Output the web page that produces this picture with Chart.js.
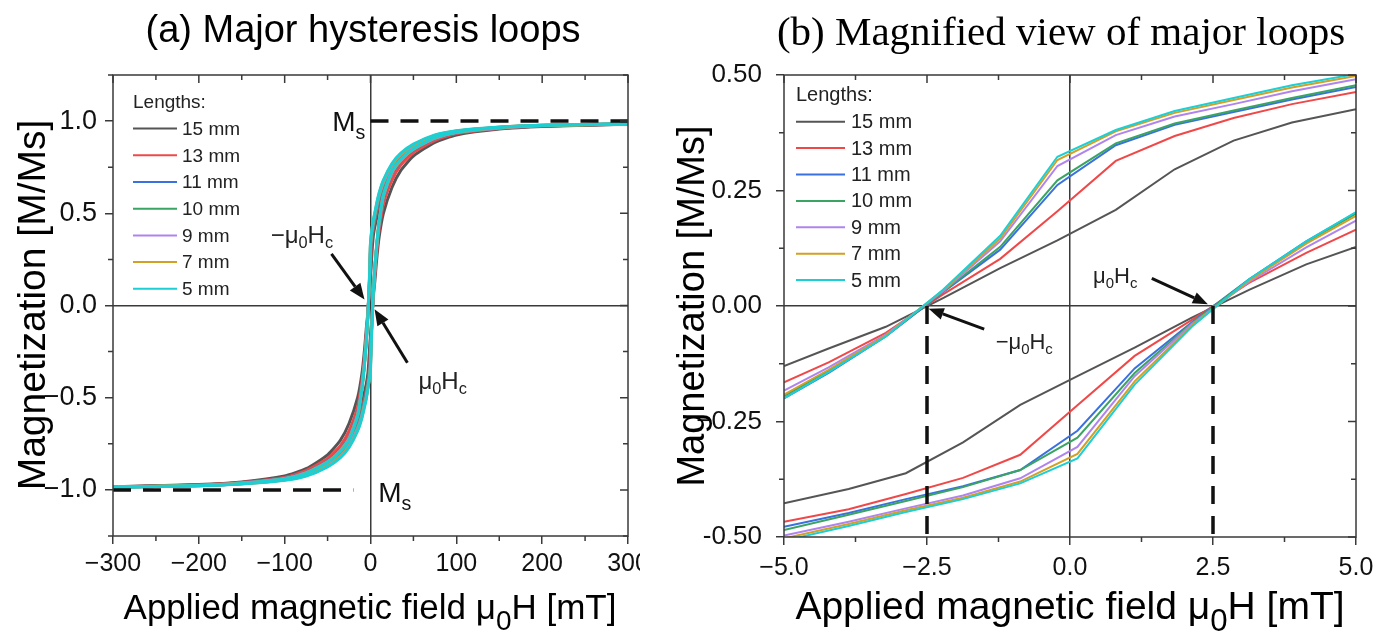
<!DOCTYPE html>
<html>
<head>
<meta charset="utf-8">
<script src="https://cdn.jsdelivr.net/npm/chart.js@4.4.1/dist/chart.umd.min.js"></script>
<style>
  html, body { margin: 0; padding: 0; background: #fff; width: 1384px; height: 632px; overflow: hidden; }
  canvas { position: absolute; top: 0; }
  #chartA { left: 0; }
  #chartB { left: 640px; }
</style>
</head>
<body>
<canvas id="chartA" width="640" height="632"></canvas>
<canvas id="chartB" width="744" height="632"></canvas>
<script>
const SANS = '"Liberation Sans", Arial, sans-serif';
const SERIF = '"Liberation Serif", "Times New Roman", serif';
const AXIS = '#3a3a3a';

const lengths = ['15 mm', '13 mm', '11 mm', '10 mm', '9 mm', '7 mm', '5 mm'];
const lineColors = ['#555555', '#f04848', '#3a70e0', '#3aa562', '#b084ee', '#d2a024', '#1ccfd4'];

// tick labels
const xTicksA = [-300, -200, -100, 0, 100, 200, 300];
const xLabelsA = ['−300', '−200', '−100', '0', '100', '200', '300'];
const yTicksA = [-1, -0.5, 0, 0.5, 1];
const yLabelsA = ['−1.0', '−0.5', '0.0', '0.5', '1.0'];
const xTicksB = [-5, -2.5, 0, 2.5, 5];
const xLabelsB = ['−5.0', '−2.5', '0.0', '2.5', '5.0'];
const yTicksB = [-0.5, -0.25, 0, 0.25, 0.5];
const yLabelsB = ['-0.50', '−0.25', '0.00', '0.25', '0.50'];

// low field part (mT), branch with field going down from +5 to -5
const hDown = [5, 3.88, 2.86, 1.83, 0.8, -0.22, -1.22, -2.22, -3.22, -4.22, -5];
const mDown15 = [0.426, 0.397, 0.358, 0.296, 0.208, 0.142, 0.082, 0.017, -0.045, -0.092, -0.13];
const mDown13 = [0.463, 0.437, 0.407, 0.368, 0.314, 0.205, 0.102, 0.025, -0.058, -0.122, -0.165];
const mDown11 = [0.474, 0.447, 0.42, 0.392, 0.348, 0.262, 0.122, 0.03, -0.066, -0.145, -0.2];
const mDown10 = [0.478, 0.45, 0.423, 0.395, 0.352, 0.272, 0.128, 0.031, -0.064, -0.14, -0.195];
const mDown9 = [0.491, 0.465, 0.437, 0.41, 0.37, 0.303, 0.14, 0.032, -0.062, -0.133, -0.183];
const mDown7 = [0.498, 0.473, 0.446, 0.418, 0.378, 0.316, 0.146, 0.034, -0.064, -0.138, -0.192];
const mDown5 = [0.502, 0.478, 0.45, 0.422, 0.381, 0.323, 0.152, 0.035, -0.066, -0.143, -0.2];

// branch with field going up from -5 to +5
const hUp = [-5, -3.87, -2.87, -1.87, -0.87, 0.13, 1.13, 2.13, 3.13, 4.13, 5];
const mUp15 = [-0.427, -0.396, -0.362, -0.295, -0.214, -0.152, -0.09, -0.025, 0.035, 0.09, 0.128];
const mUp13 = [-0.467, -0.44, -0.407, -0.372, -0.322, -0.215, -0.108, -0.03, 0.05, 0.115, 0.165];
const mUp11 = [-0.478, -0.448, -0.418, -0.39, -0.355, -0.27, -0.135, -0.035, 0.058, 0.14, 0.202];
const mUp10 = [-0.485, -0.452, -0.422, -0.392, -0.355, -0.285, -0.145, -0.037, 0.057, 0.138, 0.2];
const mUp9 = [-0.497, -0.467, -0.438, -0.41, -0.373, -0.305, -0.152, -0.039, 0.052, 0.127, 0.185];
const mUp7 = [-0.503, -0.472, -0.442, -0.415, -0.38, -0.32, -0.163, -0.042, 0.055, 0.135, 0.195];
const mUp5 = [-0.508, -0.476, -0.446, -0.418, -0.384, -0.33, -0.17, -0.045, 0.058, 0.14, 0.203];

// high field part, |H| from 7 to 300 mT
const hSatPos = [7, 10, 15, 25, 35, 50, 75, 100, 150, 200, 300];
const hSatNeg = [-7, -10, -15, -25, -35, -50, -75, -100, -150, -200, -300];

// descending branch, positive field
const satPosDown15 = [0.47, 0.53, 0.61, 0.715, 0.78, 0.84, 0.902, 0.933, 0.96, 0.973, 0.983];
const satPosDown13 = [0.505, 0.56, 0.635, 0.735, 0.795, 0.852, 0.91, 0.938, 0.963, 0.975, 0.984];
const satPosDown11 = [0.518, 0.578, 0.652, 0.748, 0.808, 0.862, 0.916, 0.942, 0.965, 0.976, 0.984];
const satPosDown10 = [0.522, 0.582, 0.655, 0.75, 0.81, 0.863, 0.917, 0.943, 0.965, 0.976, 0.984];
const satPosDown9 = [0.535, 0.595, 0.665, 0.76, 0.815, 0.868, 0.92, 0.945, 0.966, 0.977, 0.985];
const satPosDown7 = [0.545, 0.605, 0.675, 0.765, 0.82, 0.872, 0.922, 0.946, 0.967, 0.977, 0.985];
const satPosDown5 = [0.55, 0.61, 0.68, 0.77, 0.825, 0.875, 0.925, 0.948, 0.968, 0.978, 0.985];

// ascending branch, positive field
const satPosUp15 = [0.24, 0.37, 0.5, 0.64, 0.73, 0.81, 0.885, 0.925, 0.957, 0.971, 0.983];
const satPosUp13 = [0.28, 0.41, 0.55, 0.68, 0.76, 0.83, 0.895, 0.932, 0.96, 0.973, 0.984];
const satPosUp11 = [0.31, 0.44, 0.585, 0.715, 0.78, 0.845, 0.905, 0.937, 0.962, 0.975, 0.984];
const satPosUp10 = [0.31, 0.445, 0.59, 0.718, 0.782, 0.846, 0.906, 0.938, 0.963, 0.975, 0.984];
const satPosUp9 = [0.305, 0.44, 0.59, 0.72, 0.785, 0.848, 0.907, 0.938, 0.963, 0.976, 0.985];
const satPosUp7 = [0.315, 0.45, 0.595, 0.725, 0.788, 0.849, 0.909, 0.939, 0.964, 0.976, 0.985];
const satPosUp5 = [0.32, 0.455, 0.6, 0.73, 0.79, 0.85, 0.91, 0.94, 0.965, 0.977, 0.985];

// descending branch, negative field
const satNegDown15 = [-0.24, -0.37, -0.5, -0.64, -0.73, -0.81, -0.885, -0.925, -0.957, -0.971, -0.983];
const satNegDown13 = [-0.28, -0.41, -0.55, -0.68, -0.76, -0.83, -0.895, -0.932, -0.96, -0.973, -0.984];
const satNegDown11 = [-0.31, -0.44, -0.585, -0.715, -0.78, -0.845, -0.905, -0.937, -0.962, -0.975, -0.984];
const satNegDown10 = [-0.31, -0.445, -0.59, -0.718, -0.782, -0.846, -0.906, -0.938, -0.963, -0.975, -0.984];
const satNegDown9 = [-0.305, -0.44, -0.59, -0.72, -0.785, -0.848, -0.907, -0.938, -0.963, -0.976, -0.985];
const satNegDown7 = [-0.315, -0.45, -0.595, -0.725, -0.788, -0.849, -0.909, -0.939, -0.964, -0.976, -0.985];
const satNegDown5 = [-0.32, -0.455, -0.6, -0.73, -0.79, -0.85, -0.91, -0.94, -0.965, -0.977, -0.985];

// ascending branch, negative field
const satNegUp15 = [-0.47, -0.53, -0.61, -0.715, -0.78, -0.84, -0.902, -0.933, -0.96, -0.973, -0.983];
const satNegUp13 = [-0.505, -0.56, -0.635, -0.735, -0.795, -0.852, -0.91, -0.938, -0.963, -0.975, -0.984];
const satNegUp11 = [-0.518, -0.578, -0.652, -0.748, -0.808, -0.862, -0.916, -0.942, -0.965, -0.976, -0.984];
const satNegUp10 = [-0.522, -0.582, -0.655, -0.75, -0.81, -0.863, -0.917, -0.943, -0.965, -0.976, -0.984];
const satNegUp9 = [-0.535, -0.595, -0.665, -0.76, -0.815, -0.868, -0.92, -0.945, -0.966, -0.977, -0.985];
const satNegUp7 = [-0.545, -0.605, -0.675, -0.765, -0.82, -0.872, -0.922, -0.946, -0.967, -0.977, -0.985];
const satNegUp5 = [-0.55, -0.61, -0.68, -0.77, -0.825, -0.875, -0.925, -0.948, -0.968, -0.978, -0.985];

// dashed guide lines
const msFieldTop = [0, 300];
const msLevelTop = [1, 1];
const msFieldBottom = [-300, -20];
const msLevelBottom = [-1, -1];
const hcFieldNeg = [-2.5, -2.5];
const hcFieldPos = [2.5, 2.5];
const hcLevel = [0, -0.5];

const mDownAll = [mDown15, mDown13, mDown11, mDown10, mDown9, mDown7, mDown5];
const mUpAll = [mUp15, mUp13, mUp11, mUp10, mUp9, mUp7, mUp5];
const satPosDownAll = [satPosDown15, satPosDown13, satPosDown11, satPosDown10, satPosDown9, satPosDown7, satPosDown5];
const satPosUpAll = [satPosUp15, satPosUp13, satPosUp11, satPosUp10, satPosUp9, satPosUp7, satPosUp5];
const satNegDownAll = [satNegDown15, satNegDown13, satNegDown11, satNegDown10, satNegDown9, satNegDown7, satNegDown5];
const satNegUpAll = [satNegUp15, satNegUp13, satNegUp11, satNegUp10, satNegUp9, satNegUp7, satNegUp5];

const pts = (hs, ms) => hs.map((h, i) => ({ x: h, y: ms[i] }));
const rev = a => a.slice().reverse();

function branch(i, data, width, tension, legend) {
  return {
    label: lengths[i], data, borderColor: lineColors[i], borderWidth: width,
    showLine: true, pointRadius: 0, tension, fill: false, order: 10 - i, inLegend: legend
  };
}
function dashed(data) {
  return { data, borderColor: '#111', borderWidth: 3.5, borderDash: [18, 12], showLine: true, pointRadius: 0, fill: false, order: 0 };
}

const setsA = [];
const setsB = [];
lengths.forEach((name, i) => {
  const down = [...pts(rev(hSatPos), rev(satPosDownAll[i])), ...pts(hDown, mDownAll[i]), ...pts(hSatNeg, satNegDownAll[i])];
  const up = [...pts(rev(hSatNeg), rev(satNegUpAll[i])), ...pts(hUp, mUpAll[i]), ...pts(hSatPos, satPosUpAll[i])];
  setsA.push(branch(i, down, 3, 0.2, true), branch(i, up, 3, 0.2, false));
  setsB.push(branch(i, pts(hDown, mDownAll[i]), 2, 0, true), branch(i, pts(hUp, mUpAll[i]), 2, 0, false));
});
setsA.push(dashed(pts(msFieldTop, msLevelTop)), dashed(pts(msFieldBottom, msLevelBottom)));
setsB.push(dashed(pts(hcFieldNeg, hcLevel)), dashed(pts(hcFieldPos, hcLevel)));

function axisScale(axis, ticks, labels, min, max, o) {
  return {
    type: 'linear', min, max,
    afterBuildTicks: s => { s.ticks = ticks.map(v => ({ value: v })); },
    afterFit: s => {
      if (axis === 'x') { s.height = o.size; s.paddingLeft = 0; s.paddingRight = 0; }
      else { s.width = o.size; s.paddingTop = 0; s.paddingBottom = 0; }
    },
    ticks: {
      autoSkip: false, maxRotation: 0, padding: o.pad, color: '#111',
      font: { family: SANS, size: o.font },
      callback: v => labels[ticks.indexOf(v)]
    },
    grid: {
      color: c => (c.tick && c.tick.value === 0) ? AXIS : 'rgba(0,0,0,0)',
      lineWidth: 1.5, drawTicks: true, tickLength: 8, tickColor: AXIS
    },
    border: { display: false }
  };
}

function drawRich(ctx, parts, x, y, o) {
  const sizes = parts.map(p => p[1] ? o.size * (o.subScale || 0.68) : o.size);
  const widths = parts.map((p, i) => { ctx.font = sizes[i] + 'px ' + o.family; return ctx.measureText(p[0]).width; });
  const total = widths.reduce((a, b) => a + b, 0);
  let cx = o.align === 'center' ? x - total / 2 : (o.align === 'right' ? x - total : x);
  ctx.textAlign = 'left';
  ctx.textBaseline = 'alphabetic';
  parts.forEach((p, i) => {
    ctx.font = sizes[i] + 'px ' + o.family;
    ctx.fillText(p[0], cx, p[1] ? y + o.size * (o.subDrop || 0.22) : y);
    cx += widths[i];
  });
}

function drawArrow(ctx, x1, y1, x2, y2, head, half) {
  const ang = Math.atan2(y2 - y1, x2 - x1);
  const bx = x2 - Math.cos(ang) * head, by = y2 - Math.sin(ang) * head;
  ctx.beginPath();
  ctx.moveTo(x1, y1); ctx.lineTo(bx, by);
  ctx.stroke();
  ctx.beginPath();
  ctx.moveTo(x2, y2);
  ctx.lineTo(bx + Math.sin(ang) * half, by - Math.cos(ang) * half);
  ctx.lineTo(bx - Math.sin(ang) * half, by + Math.cos(ang) * half);
  ctx.closePath();
  ctx.fill();
}

const decor = {
  id: 'decor',
  afterDraw(chart, args, o) {
    const { ctx, chartArea: a } = chart;
    const x = chart.scales.x, y = chart.scales.y;
    ctx.save();

    // frame and extra ticks
    ctx.strokeStyle = AXIS; ctx.lineWidth = 1.5;
    ctx.strokeRect(a.left, a.top, a.right - a.left, a.bottom - a.top);
    ctx.beginPath();
    for (let v = x.min; v <= x.max + 1e-9; v += o.minorX) {
      const px = x.getPixelForValue(v);
      const major = o.majorX.some(t => Math.abs(t - v) < 1e-9);
      const len = major ? 8 : 5;
      ctx.moveTo(px, a.top); ctx.lineTo(px, a.top + len);
      if (!major) { ctx.moveTo(px, a.bottom); ctx.lineTo(px, a.bottom + len); }
    }
    for (let v = y.min; v <= y.max + 1e-9; v += o.minorY) {
      const py = y.getPixelForValue(v);
      const major = o.majorY.some(t => Math.abs(t - v) < 1e-9);
      const len = major ? 8 : 5;
      ctx.moveTo(a.right, py); ctx.lineTo(a.right - len, py);
      if (!major) { ctx.moveTo(a.left, py); ctx.lineTo(a.left - len, py); }
    }
    ctx.stroke();

    // legend
    const L = o.legend;
    const items = chart.data.datasets.filter(d => d.inLegend);
    ctx.font = L.size + 'px ' + SANS;
    ctx.textBaseline = 'middle'; ctx.textAlign = 'left';
    ctx.fillStyle = '#222';
    ctx.fillText('Lengths:', a.left + L.dx, a.top + L.dy);
    items.forEach((d, i) => {
      const yy = a.top + L.dy + L.first + L.row * i;
      ctx.strokeStyle = d.borderColor; ctx.lineWidth = 2;
      ctx.beginPath();
      ctx.moveTo(a.left + L.dx, yy); ctx.lineTo(a.left + L.dx + L.line, yy);
      ctx.stroke();
      ctx.fillText(d.label, a.left + L.dx + L.line + L.gap, yy + 1);
    });

    // arrows and labels (data coordinates)
    ctx.fillStyle = '#111'; ctx.strokeStyle = '#111'; ctx.lineWidth = 3;
    o.arrows.forEach(ar => {
      drawArrow(ctx, x.getPixelForValue(ar.from[0]), y.getPixelForValue(ar.from[1]),
        x.getPixelForValue(ar.to[0]), y.getPixelForValue(ar.to[1]), ar.head, ar.half);
    });
    o.labels.forEach(lb => {
      ctx.fillStyle = lb.color || '#222';
      drawRich(ctx, lb.parts, x.getPixelForValue(lb.h), y.getPixelForValue(lb.m),
        { size: lb.size, family: SANS, align: lb.align, subScale: lb.subScale, subDrop: lb.subDrop });
    });

    // titles
    ctx.fillStyle = '#000';
    const T = o.title;
    drawRich(ctx, [[T.text, 0]], T.x, T.y, { size: T.size, family: T.family, align: 'center' });
    drawRich(ctx, [['Applied magnetic field μ', 0], ['0', 1], ['H [mT]', 0]], o.xTitle.x, o.xTitle.y,
      { size: o.xTitle.size, family: SANS, align: 'center', subScale: 0.8, subDrop: 0.3 });
    ctx.translate(o.yTitle.x, o.yTitle.y);
    ctx.rotate(-Math.PI / 2);
    drawRich(ctx, [['Magnetization [M/Ms]', 0]], 0, 0, { size: o.yTitle.size, family: SANS, align: 'center' });
    ctx.restore();
  }
};

const hcLabel = [['μ', 0], ['0', 1], ['H', 0], ['c', 1]];
const hcLabelNeg = [['−μ', 0], ['0', 1], ['H', 0], ['c', 1]];
const msLabel = [['M', 0], ['s', 1]];

new Chart(document.getElementById('chartA'), {
  type: 'scatter',
  data: { datasets: setsA },
  plugins: [decor],
  options: {
    responsive: false, animation: false,
    layout: { padding: { left: 0, top: 75, right: 12, bottom: 0 } },
    scales: {
      x: axisScale('x', xTicksA, xLabelsA, -300, 300, { size: 96, pad: 5, font: 25 }),
      y: axisScale('y', yTicksA, yLabelsA, -1.25, 1.25, { size: 113, pad: 8, font: 27 })
    },
    plugins: {
      legend: { display: false }, tooltip: { enabled: false },
      decor: {
        minorX: 50, minorY: 0.25, majorX: xTicksA, majorY: yTicksA,
        title: { text: '(a) Major hysteresis loops', x: 363, y: 42, size: 38, family: SANS },
        xTitle: { x: 370, y: 619, size: 35 },
        yTitle: { x: 45, y: 305, size: 39 },
        legend: { dx: 20, dy: 28, first: 25.6, row: 26.7, size: 19, line: 44, gap: 5 },
        arrows: [
          { from: [-45.5, 0.28], to: [-7, 0.032], head: 16, half: 6.5 },
          { from: [43, -0.31], to: [4.7, -0.02], head: 16, half: 6.5 }
        ],
        labels: [
          { parts: hcLabelNeg, h: -80, m: 0.34, size: 24, align: 'center' },
          { parts: hcLabel, h: 84, m: -0.454, size: 24, align: 'center' },
          { parts: msLabel, h: -6, m: 0.945, size: 28, align: 'right', color: '#111', subScale: 0.7, subDrop: 0.28 },
          { parts: msLabel, h: 9, m: -1.065, size: 28, align: 'left', color: '#111', subScale: 0.7, subDrop: 0.28 }
        ]
      }
    }
  }
});

new Chart(document.getElementById('chartB'), {
  type: 'scatter',
  data: { datasets: setsB },
  plugins: [decor],
  options: {
    responsive: false, animation: false,
    layout: { padding: { left: 0, top: 75, right: 28, bottom: 0 } },
    scales: {
      x: axisScale('x', xTicksB, xLabelsB, -5, 5, { size: 95, pad: 8, font: 25 }),
      y: axisScale('y', yTicksB, yLabelsB, -0.5, 0.5, { size: 144, pad: 14, font: 26 })
    },
    plugins: {
      legend: { display: false }, tooltip: { enabled: false },
      decor: {
        minorX: 1.25, minorY: 0.125, majorX: xTicksB, majorY: yTicksB,
        title: { text: '(b) Magnified view of major loops', x: 421, y: 45, size: 41, family: SERIF },
        xTitle: { x: 430, y: 619, size: 39 },
        yTitle: { x: 64, y: 306, size: 38 },
        legend: { dx: 12, dy: 20, first: 26.7, row: 26.4, size: 20, line: 49, gap: 6 },
        arrows: [
          { from: [1.43, 0.06], to: [2.41, 0.004], head: 15, half: 6 },
          { from: [-1.5, -0.05], to: [-2.47, -0.006], head: 15, half: 6 }
        ],
        labels: [
          { parts: hcLabel, h: 0.79, m: 0.05, size: 22, align: 'center' },
          { parts: hcLabelNeg, h: -0.8, m: -0.093, size: 22, align: 'center' }
        ]
      }
    }
  }
});
</script>
</body>
</html>
